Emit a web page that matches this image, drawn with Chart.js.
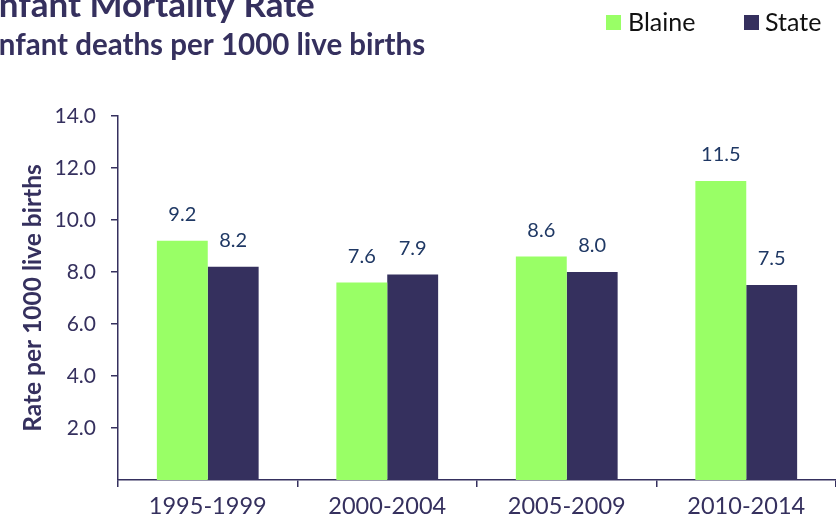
<!DOCTYPE html>
<html>
<head>
<meta charset="utf-8">
<script src="https://cdn.jsdelivr.net/npm/chart.js@4"></script>
<style>
  body { margin: 0; background: #fff; overflow: hidden; }
  canvas { display: block; }
</style>
</head>
<body>
<canvas id="myChart" width="836" height="527"></canvas>
<script>
// chart data
var periods = ['1995-1999', '2000-2004', '2005-2009', '2010-2014'];
var blaineRate = [9.2, 7.6, 8.6, 11.5];
var stateRate = [8.2, 7.9, 8.0, 7.5];
var yTicks = [2, 4, 6, 8, 10, 12, 14];

var navy = '#35305e';
var green = '#99ff66';
var labelBlue = '#1f3864';
var fontName = 'Lato, "Open Sans", sans-serif';

// titles + legend drawn on top
const headerText = {
    id: 'headerText',
    afterDraw(chart) {
        const ctx = chart.ctx;
        ctx.save();
        ctx.fillStyle = navy;
        ctx.textBaseline = 'alphabetic';
        ctx.textAlign = 'left';
        ctx.font = 'bold 35px ' + fontName;
        ctx.fillText('Infant Mortality Rate', -ctx.measureText('I').width - 1, 17);
        ctx.font = 'bold 29.5px ' + fontName;
        ctx.fillText('Infant deaths per 1000 live births', -ctx.measureText('I').width - 1, 55);

        // legend
        ctx.font = '25px ' + fontName;
        ctx.fillStyle = green;
        ctx.fillRect(606, 15, 15, 15);
        ctx.fillStyle = navy;
        ctx.fillRect(744, 15, 15, 15);
        ctx.fillStyle = '#111';
        ctx.textBaseline = 'middle';
        ctx.fillText('Blaine', 628, 23);
        ctx.fillText('State', 765, 23);
        ctx.restore();
    }
};

// value labels above each bar
const barValues = {
    id: 'barValues',
    afterDatasetsDraw(chart) {
        const ctx = chart.ctx;
        ctx.save();
        ctx.font = '20px ' + fontName;
        ctx.fillStyle = labelBlue;
        ctx.textAlign = 'center';
        ctx.textBaseline = 'middle';
        chart.data.datasets.forEach(function (ds, i) {
            const meta = chart.getDatasetMeta(i);
            meta.data.forEach(function (bar, j) {
                ctx.fillText(ds.data[j].toFixed(1), bar.x, bar.y - 26);
            });
        });
        ctx.restore();
    }
};

const config = {
    type: 'bar',
    data: {
        labels: periods,
        datasets: [
            {
                label: 'Blaine',
                data: blaineRate,
                backgroundColor: green,
                categoryPercentage: 0.567,
                barPercentage: 1.0
            },
            {
                label: 'State',
                data: stateRate,
                backgroundColor: navy,
                categoryPercentage: 0.567,
                barPercentage: 1.0
            }
        ]
    },
    plugins: [headerText, barValues],
    options: {
        responsive: false,
        animation: false,
        layout: { padding: { top: 116, left: 0, right: 0, bottom: 0 } },
        plugins: {
            legend: { display: false },
            tooltip: { enabled: false }
        },
        scales: {
            x: {
                border: { color: navy, width: 1.5 },
                grid: {
                    offset: true,
                    drawOnChartArea: false,
                    drawTicks: true,
                    tickLength: 7,
                    color: navy,
                    lineWidth: 1.5
                },
                ticks: {
                    color: navy,
                    font: { family: fontName, size: 23.5 },
                    padding: 5
                },
                afterFit(scale) { scale.height = 47; }
            },
            y: {
                min: 0,
                max: 14,
                border: { color: navy, width: 1.5 },
                grid: {
                    drawOnChartArea: false,
                    drawTicks: true,
                    tickLength: 7,
                    color: navy,
                    lineWidth: 1.5
                },
                afterBuildTicks(scale) {
                    scale.ticks = yTicks.map(function (v) { return { value: v }; });
                },
                ticks: {
                    color: navy,
                    font: { family: fontName, size: 21 },
                    padding: 15,
                    callback: function (v) { return v.toFixed(1); }
                },
                title: {
                    display: true,
                    text: 'Rate per 1000 live births',
                    color: navy,
                    font: { family: fontName, size: 24.5, weight: 'bold' },
                    padding: { top: 18, bottom: 0 }
                },
                afterFit(scale) { scale.width = 118; }
            }
        }
    }
};

new Chart(document.getElementById('myChart'), config);
</script>
</body>
</html>
